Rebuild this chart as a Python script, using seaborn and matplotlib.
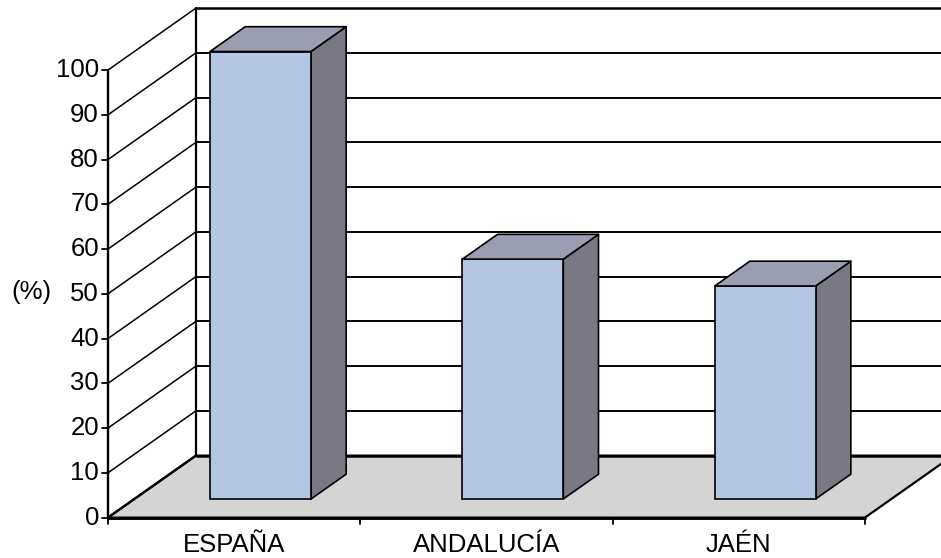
import matplotlib
matplotlib.use("Agg")
import matplotlib.pyplot as plt
import seaborn as sns
import numpy as np
import pandas as pd

# ---- data ----
categories = ["ESPAÑA", "ANDALUCÍA", "JAÉN"]
values = [100, 53.6, 47.6]
y_ticks = [0, 10, 20, 30, 40, 50, 60, 70, 80, 90, 100]
y_label = "(%)"

# ---- style ----
sns.set_theme(style="white")
plt.rcParams["font.family"] = ["Liberation Sans", "DejaVu Sans"]

FRONT = "#B5C5E4"
TOP = "#9B9EB1"
SIDE = "#7A7885"
FLOOR = "#D4D4D4"
FS = 18.5

W, H = 941, 558
fig = plt.figure(figsize=(W / 100, H / 100), dpi=100)
ax = fig.add_axes([0, 0, 1, 1])

# pixel geometry -> data units
PX_PER_CAT = 252.33
PX_PER_UNIT = 4.475
X0_PX = 260.5   # pixel x of first bar's front-face centre
Y0_PX = 499.0   # pixel y of bars' front-face bottom
DX = 88 / PX_PER_CAT          # x shift per unit depth
DY = 62 / PX_PER_UNIT         # y shift per unit depth
Z_FRONT, Z_BACK = -0.30, 0.70
BAR_DEPTH = 0.40
BAR_W = 0.40


def P(x, y, z):
    return x + z * DX, y + z * DY


df = pd.DataFrame({"cat": categories, "val": values})
sns.barplot(data=df, x="cat", y="val", color=FRONT, width=BAR_W,
            edgecolor="black", linewidth=1.2, saturation=1, ax=ax, zorder=6)

ncat = len(categories)
xl, xr = -0.5, ncat - 0.5
ymax = y_ticks[-1]

# floor
floor = [P(xl, 0, Z_FRONT), P(xr, 0, Z_FRONT), P(xr, 0, Z_BACK), P(xl, 0, Z_BACK)]
ax.add_patch(plt.Polygon(floor, closed=True, facecolor=FLOOR, edgecolor="black",
                         linewidth=1.6, zorder=2))

# back wall gridlines
for t in y_ticks:
    a, b = P(xl, t, Z_BACK), P(xr, t, Z_BACK)
    ax.plot([a[0], b[0]], [a[1], b[1]], color="black",
            lw=1.8 if t in (0, ymax) else 1.4, zorder=3, solid_capstyle="butt")
# back wall left vertical edge
a, b = P(xl, 0, Z_BACK), P(xl, ymax, Z_BACK)
ax.plot([a[0], b[0]], [a[1], b[1]], color="black", lw=1.6, zorder=3)

# left wall diagonals
for t in y_ticks:
    a, b = P(xl, t, Z_FRONT), P(xl, t, Z_BACK)
    ax.plot([a[0], b[0]], [a[1], b[1]], color="black",
            lw=1.6 if t == 0 else 1.1, zorder=3)

# front y axis + ticks + labels
a, b = P(xl, 0, Z_FRONT), P(xl, ymax, Z_FRONT)
ax.plot([a[0], b[0]], [a[1], b[1]], color="black", lw=1.7, zorder=4)
tick_len = 6 / PX_PER_CAT
for t in y_ticks:
    px, py = P(xl, t, Z_FRONT)
    ax.plot([px - tick_len, px], [py, py], color="black", lw=1.3, zorder=4)
    ax.text(px - 9 / PX_PER_CAT, py, str(t), ha="right", va="center",
            fontsize=FS, color="black")

# front x axis + ticks + labels
a, b = P(xl, 0, Z_FRONT), P(xr, 0, Z_FRONT)
ax.plot([a[0], b[0]], [a[1], b[1]], color="black", lw=2.1, zorder=4)
for k in range(ncat + 1):
    px, py = P(xl + k, 0, Z_FRONT)
    ax.plot([px, px], [py, py - 6 / PX_PER_UNIT], color="black", lw=1.3, zorder=4)
for i, c in enumerate(categories):
    px, py = P(i, 0, Z_FRONT)
    ax.text(px, (Y0_PX - 552) / PX_PER_UNIT, c, ha="center", va="baseline",
            fontsize=FS, color="black")

# y label
ax.text((31 - X0_PX) / PX_PER_CAT, (Y0_PX - 292) / PX_PER_UNIT, y_label,
        ha="center", va="center", fontsize=FS, color="black")

# 3D faces of bars
for patch in ax.patches:
    if not isinstance(patch, matplotlib.patches.Rectangle):
        continue
    x0 = patch.get_x()
    w = patch.get_width()
    h = patch.get_height()
    if w <= 0 or abs(w - BAR_W) > 1e-6:
        continue
    x1 = x0 + w
    dx, dy = BAR_DEPTH * DX, BAR_DEPTH * DY
    side = [(x1, 0), (x1, h), (x1 + dx, h + dy), (x1 + dx, dy)]
    top = [(x0, h), (x1, h), (x1 + dx, h + dy), (x0 + dx, h + dy)]
    ax.add_patch(plt.Polygon(side, closed=True, facecolor=SIDE, edgecolor="black",
                             linewidth=1.2, zorder=5, joinstyle="round"))
    ax.add_patch(plt.Polygon(top, closed=True, facecolor=TOP, edgecolor="black",
                             linewidth=1.2, zorder=6, joinstyle="round"))

ax.set_xlim((0 - X0_PX) / PX_PER_CAT, (W - X0_PX) / PX_PER_CAT)
ax.set_ylim((Y0_PX - H) / PX_PER_UNIT, Y0_PX / PX_PER_UNIT)
ax.axis("off")

fig.savefig("out.png", dpi=100, facecolor="white")
